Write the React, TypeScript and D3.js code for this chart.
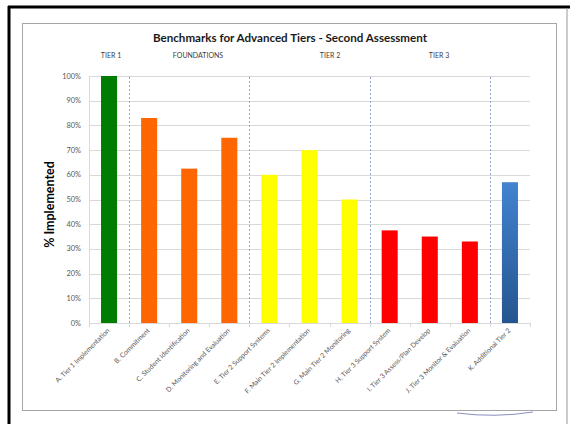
import React from "react";
import * as d3 from "d3";

const categories = [
  "A. Tier 1 Implementation",
  "B. Commitment",
  "C. Student Identification",
  "D. Monitoring and Evaluation",
  "E. Tier 2 Support Systems",
  "F. Main Tier 2 Implementation",
  "G. Main Tier 2 Monitoring",
  "H. Tier 3 Support System",
  "I. Tier 3 Assess/Plan Develop",
  "J. Tier 3 Monitor & Evaluation",
  "K. Additional Tier 2",
];
const values = [1.0, 0.83, 0.625, 0.75, 0.6, 0.7, 0.5, 0.375, 0.35, 0.33, 0.57];
const groups = ["t1", "f", "f", "f", "t2", "t2", "t2", "t3", "t3", "t3", "k"];
const groupColors: Record<string, string> = {
  t1: "#007D00",
  f: "#FF6600",
  t2: "#FFFF00",
  t3: "#FF0000",
  k: "url(#blueGrad)",
};
const yTicks = [0, 0.1, 0.2, 0.3, 0.4, 0.5, 0.6, 0.7, 0.8, 0.9, 1.0];
const separatorsAfter = [0, 3, 6, 9];
const tierLabels = [
  { text: "TIER 1", x: 111 },
  { text: "FOUNDATIONS", x: 198 },
  { text: "TIER 2", x: 330 },
  { text: "TIER 3", x: 439 },
];

const W = 570;
const H = 424;
const plot = { left: 89, right: 530, top: 76, bottom: 323 };

export default function App() {
  const x = d3
    .scaleBand<string>()
    .domain(categories)
    .range([plot.left, plot.right])
    .paddingInner(0.6)
    .paddingOuter(0.3);
  const y = d3.scaleLinear().domain([0, 1]).range([plot.bottom, plot.top]);
  const step = x.step();
  const fmt = d3.format(".0%");
  const font = "Lato, 'Open Sans', sans-serif";

  return (
    <svg
      width={W}
      height={H}
      style={{ position: "absolute", left: 0, top: 0, background: "#fff" }}
      fontFamily={font}
    >
      <defs>
        <linearGradient id="blueGrad" x1="0" y1="0" x2="0" y2="1">
          <stop offset="0" stopColor="#4383D0" />
          <stop offset="1" stopColor="#24558F" />
        </linearGradient>
      </defs>
      {/* outer frame */}
      <line x1={8} y1={7} x2={W} y2={7} stroke="#000" strokeWidth={3} />
      <line x1={9} y1={6} x2={9} y2={H} stroke="#000" strokeWidth={3} />
      <line x1={567} y1={8} x2={567} y2={H} stroke="#999" strokeWidth={1} />
      {/* chart box */}
      <rect x={22.5} y={23.5} width={534} height={387} fill="#fff" stroke="#a6a6a6" strokeWidth={1} />

      <text
        x={290}
        y={42}
        textAnchor="middle"
        fontSize={11}
        fontWeight="bold"
        fill="#1a1a1a"
        textLength={274}
        lengthAdjust="spacingAndGlyphs"
      >
        Benchmarks for Advanced Tiers - Second Assessment
      </text>
      {tierLabels.map((t) => (
        <text key={t.text} x={t.x} y={58} textAnchor="middle" fontSize={7} fill="#404040">
          {t.text}
        </text>
      ))}

      {/* gridlines */}
      {yTicks.map((t) => (
        <g key={t}>
          <line
            x1={plot.left}
            x2={plot.right}
            y1={Math.round(y(t)) + 0.5}
            y2={Math.round(y(t)) + 0.5}
            stroke="#d9d9d9"
            strokeWidth={1}
          />
          <text
            x={plot.left - 8}
            y={y(t)}
            dy="0.35em"
            textAnchor="end"
            fontSize={7.4}
            fill="#595959"
          >
            {fmt(t)}
          </text>
        </g>
      ))}
      <line x1={plot.left + 0.5} x2={plot.left + 0.5} y1={plot.top} y2={plot.bottom} stroke="#d9d9d9" />
      {/* x ticks at boundaries */}
      {d3.range(categories.length + 1).map((i) => {
        const xx = Math.round(plot.left + i * step) + 0.5;
        return (
          <line key={i} x1={xx} x2={xx} y1={plot.bottom} y2={plot.bottom + 4} stroke="#d9d9d9" />
        );
      })}

      {/* bars */}
      {categories.map((c, i) => (
        <rect
          key={c}
          x={x(c)}
          y={y(values[i])}
          width={x.bandwidth()}
          height={y(0) - y(values[i])}
          fill={groupColors[groups[i]]}
        />
      ))}

      {/* separators */}
      {separatorsAfter.map((i) => {
        const xx = Math.round(plot.left + (i + 1) * step) + 0.5;
        return (
          <line
            key={i}
            x1={xx}
            x2={xx}
            y1={plot.top + 1}
            y2={plot.bottom}
            stroke="#8ea4cc"
            strokeWidth={1}
            strokeDasharray="2,2"
          />
        );
      })}

      {/* x labels */}
      {categories.map((c) => {
        const cx = (x(c) ?? 0) + x.bandwidth() / 2 + 1;
        return (
          <text
            key={c}
            transform={`translate(${cx},${plot.bottom + 8}) rotate(-45)`}
            textAnchor="end"
            fontSize={6.8}
            fill="#595959"
          >
            {c}
          </text>
        );
      })}

      {/* y title */}
      <text
        transform={`translate(54,${(plot.top + plot.bottom) / 2 + 5}) rotate(-90)`}
        textAnchor="middle"
        fontSize={12.5}
        fontWeight="bold"
        fill="#000"
      >
        % Implemented
      </text>

      {/* swoosh */}
      <path d="M457,413 Q495,418 533,412" fill="none" stroke="#8b8fbf" strokeWidth={1} />
    </svg>
  );
}
